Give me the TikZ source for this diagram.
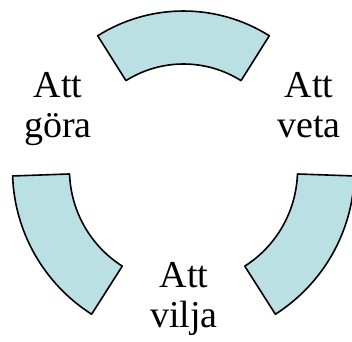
\documentclass[tikz,border=0pt]{standalone}
\usepackage{fontspec}
\setmainfont{Liberation Serif}
\usetikzlibrary{calc}
\definecolor{segfill}{RGB}{187,224,227}
\begin{document}
\begin{tikzpicture}[x=1pt,y=1pt,
  seg/.style={draw=black,line width=1.6pt,fill=segfill,line join=round},
  lbl/.style={font=\fontsize{38}{40}\selectfont,align=center,anchor=base,inner sep=0pt}]
\useasboundingbox (0,0) rectangle (352,341);
\begin{scope}
\clip (0,0) rectangle (352,341);
% top segment
\coordinate (ct) at (183.5,169);
\draw[seg] ($(ct)+(57.8:161)$) arc[start angle=57.8,end angle=122.2,radius=161]
  -- ($(ct)+(122.2:108)$) arc[start angle=122.2,end angle=57.8,radius=108] -- cycle;
% left segment
\coordinate (cl) at (183.5,171);
\draw[seg] ($(cl)+(182:171)$) arc[start angle=182,end angle=237.5,radius=171]
  -- ($(cl)+(237.5:114)$) arc[start angle=237.5,end angle=182,radius=114] -- cycle;
% right segment
\draw[seg] ($(cl)+(-2:171)$) arc[start angle=-2,end angle=-57.5,radius=171]
  -- ($(cl)+(-57.5:114)$) arc[start angle=-57.5,end angle=-2,radius=114] -- cycle;
\end{scope}
\node[lbl] (gora) at (58,204) {Att\\göra};
\node[lbl] (veta) at (309,204) {Att\\veta};
\node[lbl] (vilja) at (184,14) {Att\\vilja};
\end{tikzpicture}
\end{document}
